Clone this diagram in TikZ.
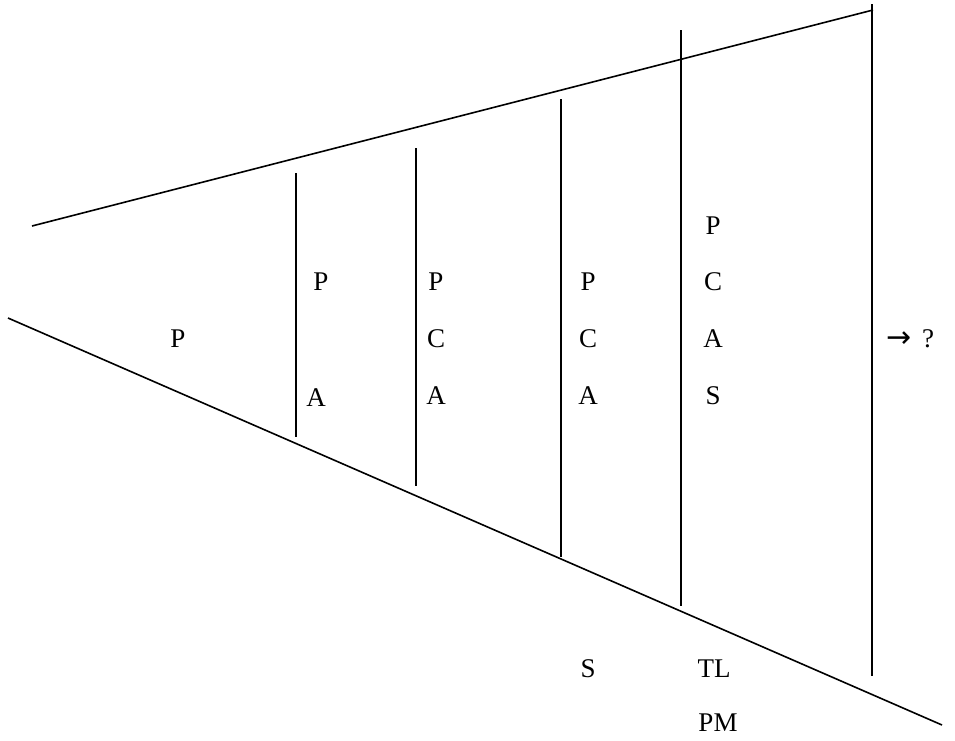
\documentclass[tikz,border=0pt]{standalone}
\usepackage{fontspec}
\setmainfont{Liberation Serif}
\newfontfamily\symfont{DejaVu Sans}
\usetikzlibrary{positioning}

\begin{document}
\begin{tikzpicture}[
x=1pt,y=-1pt,
node distance=57pt,
edge/.style={line width=1.6pt},
divider/.style={line width=1.6pt},
letter/.style={font=\fontsize{27}{30}\selectfont,inner sep=0pt,minimum height=18pt}
]
\useasboundingbox (0,0) rectangle (955,740);
% funnel outline
\coordinate (topL) at (32,226);
\coordinate (topR) at (873,10);
\coordinate (botL) at (8,318);
\coordinate (botR) at (942,725);
\draw[edge] (topL) -- (topR);
\draw[edge] (botL) -- (botR);

% stage dividers
\foreach \name/\x/\ya/\yb in {d1/296/173/437,d2/416/148/486,d3/561/99/557,d4/681/30/606,d5/872/4/676}{
  \coordinate (\name a) at (\x,\ya);
  \coordinate (\name b) at (\x,\yb);
  \draw[divider] (\name a) -- (\name b);
}

% stage contents
\node[letter] (s0p) at (178,339) {P};

\node[letter] (s1p) at (321,282) {P};
\node[letter] (s1a) at (316,398) {A};

\node[letter] (s2p) at (436,282) {P};
\node[letter,below=of s2p.center,anchor=center] (s2c) {C};
\node[letter,below=of s2c.center,anchor=center] (s2a) {A};

\node[letter] (s3p) at (588,282) {P};
\node[letter,below=of s3p.center,anchor=center] (s3c) {C};
\node[letter,below=of s3c.center,anchor=center] (s3a) {A};

\node[letter] (s4p) at (713,226) {P};
\node[letter,below=56pt of s4p.center,anchor=center] (s4c) {C};
\node[letter,below=of s4c.center,anchor=center] (s4a) {A};
\node[letter,below=of s4a.center,anchor=center] (s4s) {S};

\node[letter,font=\fontsize{30}{30}\selectfont\symfont] (next) at (899,340) {→};
\node[letter] (query) at (928,339) {?};

% below the funnel
\node[letter] (outs) at (588,669) {S};
\node[letter] (outtl) at (714,669) {TL};
\node[letter] (outpm) at (718,723) {PM};
\end{tikzpicture}
\end{document}
